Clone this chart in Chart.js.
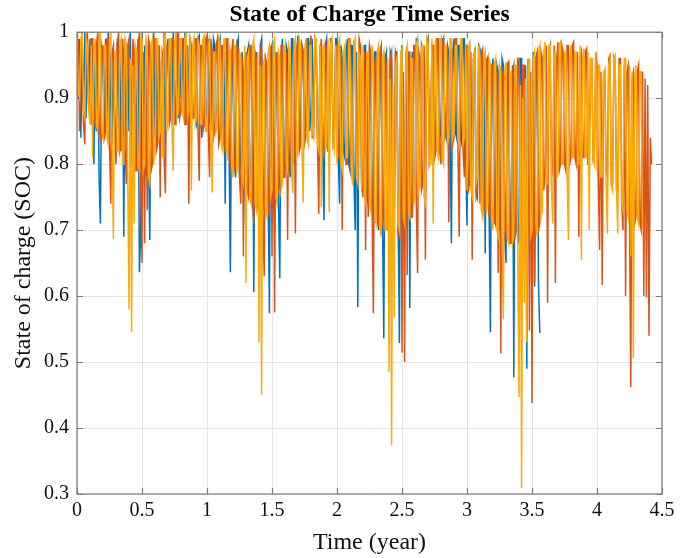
<!DOCTYPE html>
<html>
<head>
<meta charset="utf-8">
<script src="https://cdn.jsdelivr.net/npm/chart.js@4.4.1/dist/chart.umd.min.js"></script>
<style>
  body { margin: 0; background: #fff; }
  #wrap { width: 689px; height: 558px; position: relative; }
</style>
</head>
<body>
<div id="wrap"><canvas id="socCanvas"></canvas></div>
<script>
// sampling interval of the series (years)
var sampleStep = 0.01;

// SOC, one value every 0.01 year (10 per row)
var socBlue = [
  0.98, 0.90, 0.99, 0.84, 0.97, 0.89, 1.00, 0.87, 0.99, 0.89,
  0.99, 0.86, 0.98, 0.80, 0.97, 0.85, 0.99, 0.78, 0.71, 0.96,
  0.98, 0.84, 0.99, 0.86, 1.00, 0.84, 0.97, 0.83, 0.95, 0.86,
  0.83, 0.99, 0.85, 0.98, 0.82, 0.97, 0.69, 0.99, 0.84, 0.97,
  0.85, 1.00, 0.80, 0.98, 0.82, 0.96, 0.79, 0.99, 0.636, 0.70,
  0.99, 0.80, 0.98, 0.78, 0.96, 0.81, 0.685, 0.97, 0.83, 1.00,
  0.84, 0.99, 0.83, 0.98, 0.87, 0.96, 0.82, 1.00, 0.83, 0.97,
  0.99, 0.88, 0.97, 0.86, 1.00, 0.89, 0.86, 0.99, 0.87, 0.98,
  0.90, 0.99, 0.87, 1.00, 0.87, 0.98, 0.89, 0.99, 0.88, 0.97,
  0.98, 0.87, 0.86, 0.99, 0.995, 0.88, 0.84, 0.98, 0.97, 0.87,
  0.88, 0.99, 0.86, 0.97, 0.85, 0.99, 0.98, 0.86, 0.87, 0.98,
  0.99, 0.84, 0.83, 0.97, 0.74, 0.98, 0.97, 0.82, 0.636, 0.94,
  0.96, 0.80, 0.78, 0.98, 0.99, 0.79, 0.80, 0.97, 0.93, 0.77,
  0.685, 0.97, 0.98, 0.77, 0.76, 0.96, 0.606, 0.95, 0.97, 0.75,
  0.74, 0.98, 0.99, 0.73, 0.78, 0.96, 0.95, 0.76, 0.574, 0.97,
  0.98, 0.76, 0.70, 0.97, 0.93, 0.74, 0.627, 0.96, 0.99, 0.78,
  0.80, 0.98, 0.97, 0.81, 0.78, 0.99, 0.99, 0.80, 0.83, 0.97,
  0.995, 0.83, 0.84, 0.98, 0.97, 0.84, 0.86, 0.99, 0.99, 0.85,
  0.88, 0.99, 0.855, 0.97, 0.99, 0.84, 0.83, 0.98, 0.98, 0.82,
  0.715, 0.98, 0.99, 0.83, 0.82, 0.97, 0.97, 0.84, 0.85, 0.99,
  0.99, 0.81, 0.74, 0.98, 0.96, 0.82, 0.81, 0.97, 0.99, 0.80,
  0.79, 0.98, 0.98, 0.78, 0.70, 0.97, 0.583, 0.96, 0.97, 0.76,
  0.76, 0.98, 0.98, 0.75, 0.74, 0.97, 0.96, 0.73, 0.72, 0.97,
  0.97, 0.72, 0.70, 0.96, 0.95, 0.71, 0.536, 0.96, 0.97, 0.70,
  0.72, 0.97, 0.96, 0.70, 0.71, 0.97, 0.97, 0.72, 0.529, 0.95,
  0.98, 0.72, 0.73, 0.97, 0.705, 0.96, 0.582, 0.94, 0.97, 0.74,
  0.76, 0.99, 0.99, 0.77, 0.78, 0.98, 0.97, 0.79, 0.80, 0.98,
  0.99, 0.82, 0.81, 0.98, 0.98, 0.81, 0.82, 0.99, 0.99, 0.84,
  0.85, 0.99, 0.99, 0.85, 0.84, 0.98, 0.97, 0.84, 0.68, 0.97,
  0.99, 0.85, 0.84, 0.98, 0.98, 0.84, 0.83, 0.99, 0.99, 0.82,
  0.707, 0.97, 0.98, 0.77, 0.77, 0.96, 0.97, 0.76, 0.75, 0.98,
  0.975, 0.74, 0.73, 0.96, 0.665, 0.95, 0.96, 0.73, 0.545, 0.94,
  0.96, 0.72, 0.71, 0.95, 0.94, 0.70, 0.72, 0.96, 0.95, 0.69,
  0.65, 0.94, 0.955, 0.70, 0.70, 0.95, 0.477, 0.93, 0.94, 0.68,
  0.69, 0.96, 0.96, 0.68, 0.67, 0.95, 0.49, 0.94, 0.95, 0.70,
  0.72, 0.97, 0.614, 0.96, 0.97, 0.62, 0.544
];

var socRed = [
  0.93, 0.99, 0.85, 0.98, 0.99, 0.86, 0.83, 0.99, 1.00, 0.88,
  0.88, 0.99, 0.99, 0.87, 0.86, 0.98, 1.00, 0.85, 0.84, 0.98,
  0.97, 0.84, 0.85, 0.99, 0.99, 0.83, 0.74, 0.97, 0.98, 0.84,
  0.80, 0.98, 1.00, 0.82, 0.83, 0.99, 0.96, 0.82, 0.77, 0.98,
  0.99, 0.80, 0.81, 0.99, 0.97, 0.79, 0.79, 0.98, 1.00, 0.78,
  0.65, 0.97, 0.68, 0.96, 0.73, 0.99, 0.98, 0.79, 0.80, 0.99,
  0.99, 0.82, 0.83, 0.98, 0.75, 0.96, 0.97, 0.81, 0.756, 0.98,
  0.98, 0.86, 0.87, 0.99, 0.99, 0.86, 0.86, 1.00, 1.00, 0.87,
  0.88, 0.99, 0.99, 0.86, 0.86, 0.98, 0.74, 0.99, 0.98, 0.87,
  0.87, 0.99, 0.99, 0.86, 0.775, 0.98, 0.98, 0.85, 0.86, 0.99,
  0.995, 0.85, 0.78, 0.99, 0.97, 0.84, 0.85, 0.98, 0.99, 0.83,
  0.84, 0.98, 0.98, 0.83, 0.82, 0.99, 0.99, 0.81, 0.80, 0.97,
  0.99, 0.79, 0.79, 0.98, 0.97, 0.78, 0.74, 0.96, 0.66, 0.95,
  0.97, 0.76, 0.75, 0.98, 0.98, 0.74, 0.71, 0.97, 0.96, 0.73,
  0.73, 0.97, 0.98, 0.72, 0.63, 0.96, 0.95, 0.74, 0.72, 0.98,
  0.66, 0.96, 0.575, 0.94, 0.97, 0.76, 0.77, 0.98, 0.98, 0.78,
  0.78, 0.97, 0.685, 0.95, 0.96, 0.79, 0.80, 0.98, 0.695, 0.97,
  0.99, 0.82, 0.83, 0.98, 0.97, 0.83, 0.84, 0.99, 0.85, 0.98,
  0.995, 0.84, 0.84, 0.99, 0.98, 0.83, 0.725, 0.97, 0.99, 0.82,
  0.83, 0.98, 0.98, 0.82, 0.82, 0.99, 0.99, 0.83, 0.84, 0.98,
  0.98, 0.81, 0.81, 0.97, 0.70, 0.96, 0.97, 0.80, 0.80, 0.99,
  0.99, 0.79, 0.78, 0.98, 0.97, 0.78, 0.79, 0.99, 0.98, 0.77,
  0.75, 0.97, 0.67, 0.96, 0.72, 0.98, 0.97, 0.73, 0.574, 0.95,
  0.96, 0.72, 0.71, 0.97, 0.98, 0.71, 0.72, 0.96, 0.95, 0.70,
  0.70, 0.96, 0.97, 0.70, 0.71, 0.97, 0.96, 0.69, 0.69, 0.95,
  0.514, 0.94, 0.50, 0.96, 0.632, 0.97, 0.97, 0.72, 0.72, 0.98,
  0.98, 0.74, 0.635, 0.97, 0.96, 0.76, 0.77, 0.98, 0.655, 0.97,
  0.99, 0.80, 0.81, 0.98, 0.98, 0.81, 0.82, 0.99, 0.99, 0.82,
  0.80, 0.98, 0.99, 0.84, 0.85, 0.98, 0.712, 0.97, 0.98, 0.83,
  0.84, 0.99, 0.99, 0.83, 0.69, 0.97, 0.97, 0.82, 0.78, 0.98,
  0.98, 0.76, 0.77, 0.97, 0.655, 0.96, 0.97, 0.75, 0.76, 0.98,
  0.74, 0.97, 0.975, 0.73, 0.73, 0.96, 0.96, 0.72, 0.72, 0.95,
  0.95, 0.71, 0.71, 0.94, 0.635, 0.95, 0.513, 0.93, 0.94, 0.70,
  0.69, 0.95, 0.955, 0.68, 0.68, 0.94, 0.95, 0.69, 0.70, 0.96,
  0.96, 0.68, 0.68, 0.95, 0.95, 0.67, 0.67, 0.96, 0.548, 0.94,
  0.438, 0.95, 0.62, 0.96, 0.97, 0.70, 0.71, 0.97, 0.96, 0.76,
  0.78, 0.98, 0.59, 0.97, 0.98, 0.78, 0.79, 0.98, 0.62, 0.96,
  0.985, 0.79, 0.80, 0.98, 0.97, 0.80, 0.79, 0.98, 0.98, 0.80,
  0.81, 0.98, 0.985, 0.81, 0.80, 0.97, 0.69, 0.96, 0.97, 0.81,
  0.81, 0.97, 0.975, 0.80, 0.80, 0.96, 0.96, 0.81, 0.82, 0.97,
  0.95, 0.78, 0.67, 0.94, 0.617, 0.93, 0.94, 0.79, 0.78, 0.96,
  0.965, 0.77, 0.77, 0.96, 0.95, 0.76, 0.76, 0.96, 0.96, 0.74,
  0.70, 0.95, 0.60, 0.94, 0.95, 0.72, 0.462, 0.93, 0.94, 0.71,
  0.72, 0.94, 0.95, 0.71, 0.70, 0.94, 0.60, 0.93, 0.598, 0.92,
  0.54, 0.84, 0.80
];

var socYellow = [
  0.99, 0.91, 0.90, 0.99, 1.00, 0.88, 0.87, 0.99, 0.98, 0.88,
  0.86, 0.98, 0.81, 0.97, 0.99, 0.86, 0.85, 0.99, 1.00, 0.85,
  0.84, 0.98, 0.98, 0.84, 0.83, 0.99, 1.00, 0.83, 0.686, 0.97,
  0.97, 0.82, 0.82, 0.98, 0.99, 0.80, 0.80, 0.99, 0.98, 0.79,
  0.58, 0.96, 0.545, 0.95, 0.71, 0.98, 0.97, 0.80, 0.79, 0.99,
  1.00, 0.79, 0.80, 0.99, 0.98, 0.78, 0.77, 0.98, 0.99, 0.80,
  0.83, 0.99, 0.99, 0.84, 0.85, 0.98, 0.81, 0.99, 1.00, 0.85,
  0.87, 0.99, 0.99, 0.86, 0.79, 0.98, 1.00, 0.87, 0.88, 0.99,
  0.99, 0.88, 0.87, 0.99, 1.00, 0.87, 0.88, 0.99, 0.76, 0.98,
  0.99, 0.86, 0.87, 0.99, 0.98, 0.86, 0.86, 0.99, 0.995, 0.85,
  0.85, 0.98, 0.99, 0.84, 0.757, 0.97, 0.97, 0.85, 0.86, 0.99,
  0.98, 0.83, 0.82, 0.99, 0.99, 0.82, 0.81, 0.98, 0.97, 0.80,
  0.78, 0.98, 0.98, 0.79, 0.80, 0.97, 0.96, 0.78, 0.77, 0.98,
  0.62, 0.96, 0.97, 0.75, 0.74, 0.98, 0.99, 0.74, 0.73, 0.97,
  0.53, 0.95, 0.45, 0.94, 0.96, 0.73, 0.72, 0.97, 0.98, 0.75,
  0.76, 0.98, 0.99, 0.75, 0.74, 0.97, 0.96, 0.76, 0.77, 0.98,
  0.98, 0.80, 0.79, 0.98, 0.97, 0.79, 0.756, 0.98, 0.99, 0.81,
  0.82, 0.99, 0.98, 0.83, 0.742, 0.97, 0.99, 0.84, 0.83, 0.98,
  0.98, 0.85, 0.84, 0.99, 0.99, 0.83, 0.82, 0.98, 0.735, 0.97,
  0.98, 0.82, 0.83, 0.99, 0.727, 0.98, 0.99, 0.83, 0.82, 0.98,
  0.80, 0.98, 0.99, 0.80, 0.79, 0.97, 0.98, 0.81, 0.81, 0.99,
  0.97, 0.79, 0.768, 0.98, 0.99, 0.78, 0.77, 0.97, 0.96, 0.76,
  0.98, 0.75, 0.74, 0.97, 0.97, 0.74, 0.73, 0.98, 0.96, 0.72,
  0.71, 0.97, 0.98, 0.71, 0.69, 0.96, 0.97, 0.70, 0.70, 0.96,
  0.485, 0.93, 0.374, 0.92, 0.568, 0.95, 0.96, 0.71, 0.70, 0.97,
  0.975, 0.72, 0.71, 0.97, 0.98, 0.73, 0.72, 0.96, 0.96, 0.74,
  0.75, 0.98, 0.99, 0.76, 0.77, 0.98, 0.98, 0.75, 0.74, 0.99,
  0.98, 0.80, 0.80, 0.99, 0.71, 0.97, 0.99, 0.82, 0.81, 0.98,
  0.99, 0.81, 0.80, 0.98, 0.98, 0.83, 0.84, 0.99, 0.99, 0.84,
  0.85, 0.98, 0.98, 0.84, 0.83, 0.99, 0.99, 0.83, 0.84, 0.98,
  0.76, 0.97, 0.985, 0.76, 0.75, 0.96, 0.97, 0.77, 0.78, 0.98,
  0.96, 0.73, 0.72, 0.96, 0.97, 0.73, 0.74, 0.96, 0.95, 0.72,
  0.70, 0.95, 0.96, 0.70, 0.69, 0.95, 0.94, 0.69, 0.565, 0.94,
  0.955, 0.69, 0.68, 0.94, 0.94, 0.68, 0.69, 0.95, 0.95, 0.67,
  0.447, 0.92, 0.309, 0.90, 0.59, 0.93, 0.53, 0.94, 0.96, 0.69,
  0.70, 0.96, 0.97, 0.71, 0.69, 0.97, 0.98, 0.72, 0.73, 0.97,
  0.985, 0.77, 0.77, 0.98, 0.98, 0.76, 0.71, 0.97, 0.97, 0.78,
  0.79, 0.98, 0.985, 0.80, 0.80, 0.97, 0.97, 0.79, 0.685, 0.96,
  0.98, 0.81, 0.81, 0.97, 0.97, 0.80, 0.80, 0.98, 0.655, 0.96,
  0.975, 0.81, 0.81, 0.97, 0.70, 0.96, 0.96, 0.81, 0.80, 0.97,
  0.79, 0.95, 0.95, 0.78, 0.78, 0.94, 0.94, 0.77, 0.695, 0.95,
  0.96, 0.77, 0.76, 0.96, 0.965, 0.76, 0.695, 0.95, 0.95, 0.74,
  0.73, 0.96, 0.96, 0.73, 0.72, 0.95, 0.66, 0.94, 0.506, 0.93,
  0.95, 0.72, 0.71, 0.94, 0.94, 0.70
];

var xTickMin = 0, xTickMax = 4.5, xTickStep = 0.5;
var yTickMin = 0.3, yTickMax = 1, yTickStep = 0.1;

var serif = "'Liberation Serif', 'Times New Roman', serif";
var axisGray = '#7b7b7b';

function toPoints(arr) {
  return arr.map(function(v, i) { return { x: i * sampleStep, y: v }; });
}

// MATLAB style box with inward ticks on all four sides
var boxTicks = {
  id: 'boxTicks',
  afterDatasetsDraw: function(chart) {
    var ctx = chart.ctx, a = chart.chartArea;
    var xs = chart.scales.x, ys = chart.scales.y;
    var len = 6;
    ctx.save();
    ctx.strokeStyle = axisGray;
    ctx.lineWidth = 1.2;
    ctx.beginPath();
    xs.ticks.forEach(function(t) {
      var px = Math.round(xs.getPixelForValue(t.value)) + 0.5;
      ctx.moveTo(px, a.bottom); ctx.lineTo(px, a.bottom - len);
      ctx.moveTo(px, a.top); ctx.lineTo(px, a.top + len);
    });
    ys.ticks.forEach(function(t) {
      var py = Math.round(ys.getPixelForValue(t.value)) + 0.5;
      ctx.moveTo(a.left, py); ctx.lineTo(a.left + len, py);
      ctx.moveTo(a.right, py); ctx.lineTo(a.right - len, py);
    });
    ctx.stroke();
    ctx.strokeRect(a.left, a.top, a.right - a.left, a.bottom - a.top);
    ctx.restore();
  }
};

var ctx = document.getElementById('socCanvas');

var socChart = new Chart(ctx, {
  type: 'line',
  data: {
    datasets: [
      {
        label: 'SOC 1',
        data: toPoints(socBlue),
        borderColor: '#0072BD',
        order: 3
      },
      {
        label: 'SOC 2',
        data: toPoints(socRed),
        borderColor: '#D95319',
        order: 2
      },
      {
        label: 'SOC 3',
        data: toPoints(socYellow),
        borderColor: '#FCA90A',
        order: 1
      }
    ]
  },
  options: {
    responsive: true,
    maintainAspectRatio: false,
    animation: false,
    layout: { padding: { left: 0, right: 27, top: 0, bottom: 0 } },
    elements: {
      point: { radius: 0 },
      line: { borderWidth: 1.5, tension: 0, fill: false }
    },
    plugins: {
      legend: { display: false },
      tooltip: { enabled: false },
      title: {
        display: true,
        fullSize: false,
        text: 'State of Charge Time Series',
        color: '#000',
        font: { family: serif, size: 23.5, weight: 'bold' },
        padding: { top: 1, bottom: 3 }
      }
    },
    scales: {
      x: {
        type: 'linear',
        min: xTickMin,
        max: xTickMax,
        ticks: {
          stepSize: xTickStep,
          color: '#111',
          padding: 5,
          maxRotation: 0,
          font: { family: serif, size: 20 },
          callback: function(v) { return String(+v.toFixed(1)); }
        },
        grid: { color: '#e4e4e4', lineWidth: 1, drawTicks: false },
        border: { display: false },
        title: {
          display: true,
          text: 'Time (year)',
          color: '#111',
          font: { family: serif, size: 24 },
          padding: { top: 0, bottom: 1 }
        },
        afterFit: function(s) { s.height = 64; }
      },
      y: {
        type: 'linear',
        min: yTickMin,
        max: yTickMax,
        ticks: {
          stepSize: yTickStep,
          color: '#111',
          padding: 8,
          font: { family: serif, size: 20 },
          callback: function(v) { return String(+v.toFixed(1)); }
        },
        grid: { color: '#e4e4e4', lineWidth: 1, drawTicks: false },
        border: { display: false },
        title: {
          display: true,
          text: 'State of charge (SOC)',
          color: '#111',
          font: { family: serif, size: 24 },
          padding: { top: 9, bottom: 0 }
        },
        afterFit: function(s) { s.width = 77; }
      }
    }
  },
  plugins: [boxTicks]
});
</script>
</body>
</html>
